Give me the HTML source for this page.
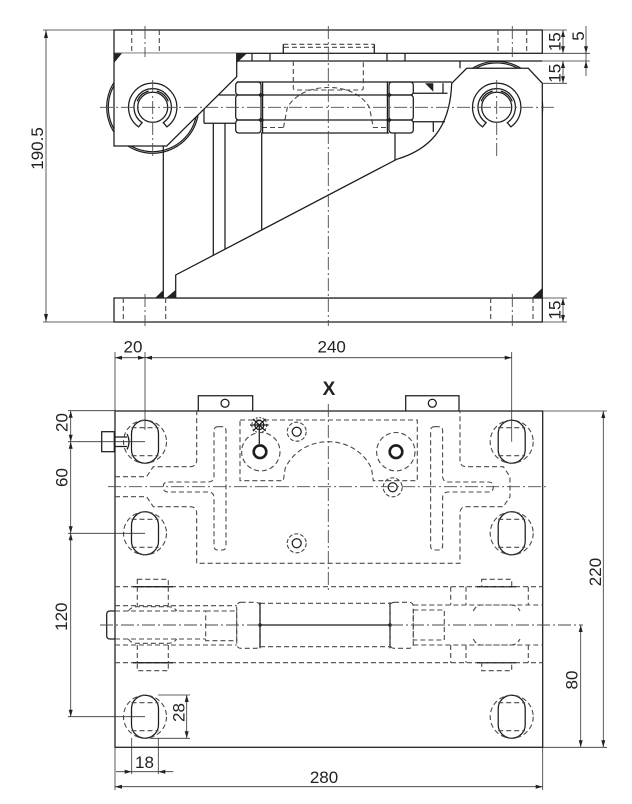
<!DOCTYPE html>
<html><head><meta charset="utf-8"><style>
html,body{margin:0;padding:0;background:#fff;}
svg{display:block}
.s{stroke:#1c1c1c;stroke-width:1.25;fill:none}
.h{stroke:#4a4a4a;stroke-width:1.1;stroke-dasharray:5 3;fill:none}
.c{stroke:#4a4a4a;stroke-width:0.9;stroke-dasharray:13 3 2 3;fill:none}
.d{stroke:#333;stroke-width:0.8;fill:none}
.a{fill:#222;stroke:none}
text{font-family:"Liberation Sans",Arial,sans-serif;font-size:17px;fill:#222}
</style></head><body>
<svg width="632" height="804" viewBox="0 0 632 804" xmlns="http://www.w3.org/2000/svg">
<defs>
<g id="hole">
<rect class="s" x="-13.5" y="-21.5" width="27" height="43" rx="13.5" ry="13.5"/>
<circle class="h" r="21.5"/>
<path class="h" d="M-13.5,-14 H13.5 M-13.5,14 H13.5"/>
</g>
<g id="clip">
<circle class="s" r="15"/>
<path class="s" d="M-14.2,19.6 A24.2,24.2 0 1 1 14.2,19.6 L10.6,15.4 A18.7,18.7 0 1 0 -10.6,15.4 Z"/>
<path class="s" stroke-width="1" d="M-15.5,-6 A16.7,16.7 0 0 1 -4,-16.2 M4,-16.2 A16.7,16.7 0 0 1 15.5,-6"/>
</g>
</defs>

<!-- ================= TOP VIEW ================= -->
<!-- disks -->
<circle cx="152.7" cy="107.3" r="46" fill="none" stroke="#1c1c1c" stroke-width="1.2"/>
<circle cx="152.7" cy="107.3" r="44.4" fill="none" stroke="#1c1c1c" stroke-width="1.2"/>
<circle cx="496.7" cy="107.3" r="46" fill="none" stroke="#1c1c1c" stroke-width="1.2"/>
<circle cx="496.7" cy="107.3" r="44.4" fill="none" stroke="#1c1c1c" stroke-width="1.2"/>

<!-- plates -->
<rect class="s" x="114" y="30" width="428.3" height="23.3"/>
<rect class="s" x="114" y="298" width="428.3" height="24"/>

<!-- brackets -->
<path class="s" style="fill:#fff" d="M114,53.3 L114,146 L166.7,146 L236.7,76.7 L236.7,53.3"/>
<path class="s" style="fill:#fff" d="M451.7,83.3 L466.7,68.3 L528.3,68.3 L542.3,83.3 L542.3,298 L175.7,298 L175.7,275 L396.7,159.3 C428,150 450,130 451.7,83.3 Z"/>

<!-- pad & plate -->
<path class="s" d="M236.7,61 H542.3 M252,53.3 V61 M270,53.3 V61 M387,53.3 V61 M405,53.3 V61 M460,61 V68.3 M236.7,82 H451.7"/>
<path class="s" d="M283.3,53.3 V44.3 M374.3,53.3 V44.3"/>
<path class="h" d="M283.3,44.3 H374.3 M284,47.3 H374"/>

<!-- load cell hidden -->
<path class="h" d="M293.3,61 V88 Q293.3,90 295.5,90 H361 Q363.3,90 363.3,88 V61"/>
<path class="h" d="M283.5,127.5 L287.3,107.5 C296,93 312,87.5 328.3,87.5 C344.6,87.5 361,93 369.5,107.5 L373.3,127.5"/>
<path class="h" d="M262,127.5 H283 M373,127.5 H389"/>

<!-- nuts -->
<g class="s">
<rect x="235.7" y="82" width="25.3" height="13" rx="3"/>
<rect x="235.7" y="95" width="25.3" height="25" rx="3"/>
<rect x="235.7" y="120" width="25.3" height="13" rx="3"/>
<rect x="389" y="82" width="24.3" height="13" rx="3"/>
<rect x="389" y="95" width="24.3" height="25" rx="3"/>
<rect x="389" y="120" width="24.3" height="13" rx="3"/>
<path d="M261,95 H389 M261,120 H389 M261,133 H389 M262.6,82 V133 M387.4,82 V133"/>
</g>
<g class="a">
<circle cx="262" cy="95" r="1.8"/><circle cx="262" cy="120" r="1.8"/>
<circle cx="388.3" cy="95" r="1.8"/><circle cx="388.3" cy="120" r="1.8"/>
</g>

<!-- shanks & ribs -->
<path class="s" d="M219,95 H235.7 M204,123.3 H235.7 M204,109 V123.3 M413.3,93.3 H447.5 M413.3,121.7 H445 M433.3,121.7 V132 M443,83.3 V93.3"/>
<path class="s" d="M163.3,146 V298 M213.3,123.3 V255.3 M225,123.3 V249.2 M261.7,133 V230 M395,133 V160"/>

<!-- welds -->
<g class="a">
<polygon points="114,53.3 122,53.3 114,63"/>
<polygon points="236.7,53.3 247,53.3 236.7,63"/>
<polygon points="425,83.3 433.3,83.3 433.3,91.7"/>
<polygon points="155,298 163.3,298 163.3,290"/>
<polygon points="166,298 175.7,298 175.7,289.7"/>
<polygon points="531.7,298 542.3,298 542.3,288"/>
</g>

<!-- hidden plate holes -->
<path class="h" d="M131.7,30 V53.3 M159.3,30 V53.3 M498,30 V53.3 M526.7,30 V53.3 M123.3,298 V322 M165.7,298 V322 M490.7,298 V322 M533,298 V322"/>

<!-- circlips -->
<use href="#clip" transform="translate(152.7,107.3)"/>
<use href="#clip" transform="translate(496.7,107.3)"/>

<!-- center lines -->
<path class="c" d="M100,107.3 H557 M328.3,26 V326 M145,26 V57 M145,294 V326 M512.3,26 V57 M512.3,294 V326 M152.7,80 V158 M496.7,80 V158"/>

<!-- dims top view -->
<path class="d" d="M43,30 H114 M43,322 H114 M46,30 V322"/>
<polygon class="a" points="46,30 44,38 48,38"/>
<polygon class="a" points="46,322 44,314 48,314"/>
<text transform="translate(37,148.5) rotate(-90)" x="0" y="6" text-anchor="middle">190.5</text>

<path class="d" d="M542.3,30 H567 M542.3,53.3 H590 M542.3,61 H590 M542.3,83.3 H567 M542.3,298 H567 M542.3,322 H567 M563,30 V53.3 M563,61 V83.3 M563,298 V322 M586,26 V76"/>
<g class="a">
<polygon points="563,30 561,37 565,37"/><polygon points="563,53.3 561,46.3 565,46.3"/>
<polygon points="563,61 561,68 565,68"/><polygon points="563,83.3 561,76.3 565,76.3"/>
<polygon points="563,298 561,305 565,305"/><polygon points="563,322 561,315 565,315"/>
<polygon points="586,53.3 584,46.3 588,46.3"/><polygon points="586,61 584,68 588,68"/>
</g>
<text transform="translate(554.3,41.7) rotate(-90)" x="0" y="6" text-anchor="middle">15</text>
<text transform="translate(578,36) rotate(-90)" x="0" y="6" text-anchor="middle">5</text>
<text transform="translate(554.3,73.3) rotate(-90)" x="0" y="6" text-anchor="middle">15</text>
<text transform="translate(554.3,310) rotate(-90)" x="0" y="6" text-anchor="middle">15</text>

<!-- ================= PLAN VIEW ================= -->
<rect class="s" x="115" y="411" width="427.7" height="336.3"/>
<path class="s" d="M198.3,411 V395.7 H252.7 V411 M405.7,411 V395.7 H459 V411"/>
<circle class="s" cx="225" cy="403.3" r="4"/>
<circle class="s" cx="432.3" cy="403.3" r="4"/>
<text x="329" y="395" text-anchor="middle" style="font-weight:bold;font-size:19px">X</text>

<!-- outline hidden -->
<path class="h" d="M115,476.7 H146.6 L153.3,466.7 H190 Q196.7,466.7 196.7,460 V411"/>
<path class="h" d="M115,496.7 H146.6 L153.3,506.7 H190 Q196.7,506.7 196.7,513.3 V563.3 H460 V513.3 Q460,506.7 466.6,506.7 H503.3 L510,496.7 V476.7 L503.3,466.7 H466.6 Q460,466.7 460,460 V411"/>
<path class="h" d="M218,426.7 H222 Q226,426.7 226,430.7 V546 Q226,550 222,550 H218 Q214,550 214,546 V498 Q214,492 208,492 H168 Q163.3,492 163.3,487 Q163.3,482 168,482 H208 Q214,482 214,476 V430.7 Q214,426.7 218,426.7 Z"/>
<path class="h" d="M434.6,426.7 H438.6 Q442.6,426.7 442.6,430.7 V476 Q442.6,482 448.6,482 H488.6 Q493.3,482 493.3,487 Q493.3,492 488.6,492 H448.6 Q442.6,492 442.6,498 V546 Q442.6,550 438.6,550 H434.6 Q430.6,550 430.6,546 V430.7 Q430.6,426.7 434.6,426.7 Z"/>
<path class="h" d="M240,420 H417.3 V480.7 H373.3 L371.5,468.3 C364,452 347,441.7 328.3,441.7 C309.6,441.7 292.6,452 285.2,468.3 L283.3,480.7 H240 Z"/>

<!-- small holes -->
<circle class="s" cx="259.3" cy="425" r="4.5"/>
<circle class="h" cx="259.3" cy="425" r="7.5" style="stroke-dasharray:2 1.5"/>
<path class="s" stroke-width="0.8" d="M250,425 H268.6 M253,419 L265.6,431 M253,431 L265.6,419 M259.3,425 V444"/>
<circle cx="260" cy="451.7" r="6.3" fill="none" stroke="#1c1c1c" stroke-width="2.6"/>
<circle class="h" cx="260.8" cy="451.7" r="19.2"/>
<circle cx="396" cy="451.7" r="6.3" fill="none" stroke="#1c1c1c" stroke-width="2.6"/>
<circle class="h" cx="395.8" cy="451.7" r="19.2"/>
<circle class="s" cx="296.7" cy="431.7" r="4.5"/><circle class="h" cx="296.7" cy="431.7" r="9.5" style="stroke-dasharray:4 2"/>
<circle class="s" cx="392.7" cy="487.3" r="4.5"/><circle class="h" cx="392.7" cy="487.3" r="9.5" style="stroke-dasharray:4 2"/>
<circle class="s" cx="296.7" cy="543.3" r="4.5"/><circle class="h" cx="296.7" cy="543.3" r="9.5" style="stroke-dasharray:4 2"/>

<!-- slots -->
<use href="#hole" transform="translate(145,441.7)"/>
<use href="#hole" transform="translate(145,533.3)"/>
<use href="#hole" transform="translate(145,716.7)"/>
<use href="#hole" transform="translate(511.7,441.7)"/>
<use href="#hole" transform="translate(511.7,533.3)"/>
<use href="#hole" transform="translate(511.7,716.7)"/>

<!-- bolt -->
<rect class="s" x="101.7" y="431.7" width="12.6" height="20"/>
<path class="s" d="M115,437 H127 M115,446.5 H127 M127,434 Q131,441.7 127,449.5"/>

<!-- rod assembly -->
<path class="s" d="M115,611 H110 Q106.7,611 106.7,614.3 V635.7 Q106.7,639 110,639 H115"/>
<path class="h" d="M115,586.7 H542.7 M115,662.7 H542.7 M115,605.7 H236.7 M115,645 H236.7 M413.3,605 H542.7 M413.3,645 H542.7 M115,611 H205.7 M115,639 H205.7"/>
<path class="h" d="M128.3,611 Q131,606.7 137,606.7 H168 Q174,606.7 176.7,611 M128.3,639 Q131,643.3 137,643.3 H168 Q174,643.3 176.7,639"/>
<rect class="h" x="137.3" y="579.3" width="31" height="7.4"/>
<rect class="h" x="137.3" y="662.7" width="31" height="8"/>
<path class="h" d="M137.3,586.7 V605.7 M168.3,586.7 V605.7 M137.3,645 V662.7 M168.3,645 V662.7"/>
<path class="s" stroke-width="1.6" d="M133,586.7 H173 M133,662.7 H173 M477,586.7 H516 M477,662.7 H516"/>
<rect class="h" x="205.7" y="611" width="31" height="29.7"/>
<rect class="h" x="236.7" y="602.3" width="23.3" height="46" rx="4"/>
<path class="s" d="M260,602.3 V648.3 M390,602.3 V648.3"/>
<path class="h" d="M260,603.3 H390 M260,646.7 H390"/>
<rect class="h" x="390" y="602.3" width="23.3" height="46" rx="4"/>
<rect class="h" x="413.3" y="610" width="31" height="30"/>
<path class="h" d="M450.7,586.7 V605 M466,586.7 V605 M450.7,645 V662.7 M466,645 V662.7 M528.3,586.7 V605 M528.3,645 V662.7"/>
<path class="h" d="M473.3,611 Q476,605 482,605 H511 Q517,605 520,611 M473.3,639 Q476,645 482,645 H511 Q517,645 520,639"/>
<rect class="h" x="481.7" y="579.3" width="30" height="7.4"/>
<rect class="h" x="481.7" y="662.7" width="30" height="8"/>
<path class="s" stroke-width="0.9" d="M260,625 H390"/>
<g class="a"><circle cx="260" cy="625" r="1.8"/><circle cx="390" cy="625" r="1.8"/></g>

<!-- center lines plan -->
<path class="c" d="M108,486.7 H548 M328.3,404 V592 M100,625 H260 M390,625 H583"/>

<!-- dims plan -->
<path class="d" d="M115,357.7 H511.7 M115,352 V411 M145,352 V430 M511.7,352 V441.7"/>
<g class="a">
<polygon points="115,357.7 122,355.7 122,359.7"/>
<polygon points="145,357.7 138,355.7 138,359.7"/>
<polygon points="145,357.7 152,355.7 152,359.7"/>
<polygon points="511.7,357.7 504.7,355.7 504.7,359.7"/>
</g>
<text x="133" y="352.7" text-anchor="middle">20</text>
<text x="331.7" y="352.7" text-anchor="middle">240</text>

<path class="d" d="M68,410.7 H115 M68,441.7 H145 M68,533.3 H145 M68,716.7 H145 M70.7,410.7 V716.7"/>
<g class="a">
<polygon points="70.7,410.7 68.7,417.7 72.7,417.7"/>
<polygon points="70.7,441.7 68.7,434.7 72.7,434.7"/>
<polygon points="70.7,441.7 68.7,448.7 72.7,448.7"/>
<polygon points="70.7,533.3 68.7,526.3 72.7,526.3"/>
<polygon points="70.7,533.3 68.7,540.3 72.7,540.3"/>
<polygon points="70.7,716.7 68.7,709.7 72.7,709.7"/>
</g>
<text transform="translate(61.3,422.5) rotate(-90)" x="0" y="6" text-anchor="middle">20</text>
<text transform="translate(61.3,477.5) rotate(-90)" x="0" y="6" text-anchor="middle">60</text>
<text transform="translate(61,616.7) rotate(-90)" x="0" y="6" text-anchor="middle">120</text>

<path class="d" d="M158,695 H190 M150,738.3 H190 M186.7,695 V738.3"/>
<g class="a">
<polygon points="186.7,695 184.7,702 188.7,702"/>
<polygon points="186.7,738.3 184.7,731.3 188.7,731.3"/>
</g>
<text transform="translate(178.3,712.5) rotate(-90)" x="0" y="6" text-anchor="middle">28</text>

<path class="d" d="M131.7,738 V774 M158.3,738 V774 M116,771.7 H173.3"/>
<g class="a">
<polygon points="131.7,771.7 124.7,769.7 124.7,773.7"/>
<polygon points="158.3,771.7 165.3,769.7 165.3,773.7"/>
</g>
<text x="144.5" y="768" text-anchor="middle">18</text>

<path class="d" d="M115,747.3 V790 M542.7,747.3 V790 M115,786.7 H542.7"/>
<g class="a">
<polygon points="115,786.7 122,784.7 122,788.7"/>
<polygon points="542.7,786.7 535.7,784.7 535.7,788.7"/>
</g>
<text x="324" y="783" text-anchor="middle">280</text>

<path class="d" d="M542.7,411 H607 M542.7,747.3 H607 M603.3,411 V747.3 M583,625 V625 M580.7,625 V747.3"/>
<g class="a">
<polygon points="603.3,411 601.3,418 605.3,418"/>
<polygon points="603.3,747.3 601.3,740.3 605.3,740.3"/>
<polygon points="580.7,625 578.7,632 582.7,632"/>
<polygon points="580.7,747.3 578.7,740.3 582.7,740.3"/>
</g>
<text transform="translate(595,572) rotate(-90)" x="0" y="6" text-anchor="middle">220</text>
<text transform="translate(571.7,680) rotate(-90)" x="0" y="6" text-anchor="middle">80</text>
</svg>
</body></html>
